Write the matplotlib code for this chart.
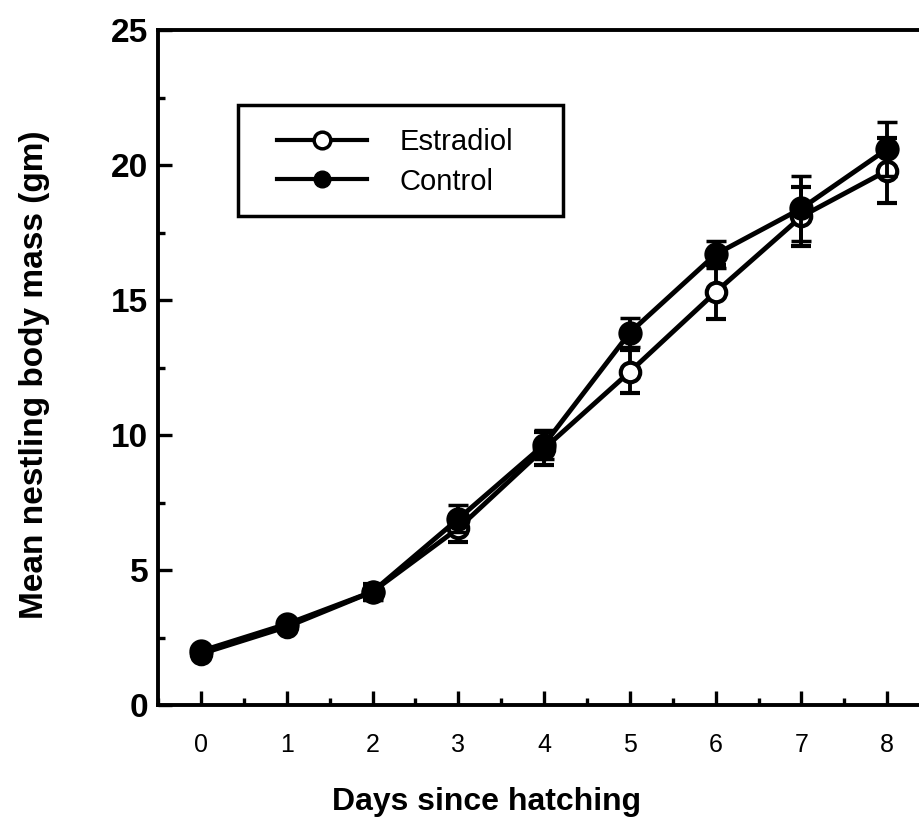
import matplotlib.pyplot as plt
from matplotlib.lines import Line2D
from matplotlib.patches import Rectangle
from matplotlib.ticker import MultipleLocator

plt.rcParams['font.family'] = ['Liberation Sans', 'DejaVu Sans']

# data
days = [0, 1, 2, 3, 4, 5, 6, 7, 8]
estradiol = [1.9, 2.9, 4.2, 6.55, 9.5, 12.35, 15.3, 18.1, 19.8]
estradiol_err = [0.1, 0.15, 0.3, 0.5, 0.6, 0.8, 1.0, 1.1, 1.2]
control = [2.0, 3.0, 4.2, 6.9, 9.65, 13.8, 16.7, 18.4, 20.6]
control_err = [0.1, 0.15, 0.3, 0.5, 0.55, 0.55, 0.5, 1.2, 1.0]

fig = plt.figure(figsize=(9.19, 8.17), dpi=100)
ax = fig.add_axes([0.172, 0.137, 0.828, 0.826])

ax.errorbar(days, estradiol, yerr=estradiol_err, color='black', lw=3.5,
            marker='o', ms=14, mfc='white', mec='black', mew=3,
            elinewidth=2.8, capsize=7, capthick=3.5, zorder=3)
ax.errorbar(days, control, yerr=control_err, color='black', lw=3.5,
            marker='o', ms=15, mfc='black', mec='black', mew=2.5,
            elinewidth=2.8, capsize=7, capthick=3.5, zorder=4)

ax.set_xlim(-0.5, 8.37)
ax.set_ylim(0, 25)
ax.xaxis.set_major_locator(MultipleLocator(1))
ax.xaxis.set_minor_locator(MultipleLocator(0.5))
ax.yaxis.set_major_locator(MultipleLocator(5))
ax.yaxis.set_minor_locator(MultipleLocator(2.5))
ax.tick_params(which='both', direction='in', width=2.4, top=False, right=False)
ax.tick_params(which='major', length=10)
ax.tick_params(which='minor', length=5)
ax.tick_params(axis='x', labelsize=18, pad=20)
ax.tick_params(axis='y', labelsize=24, pad=7)
for lab in ax.get_yticklabels():
    lab.set_fontweight('bold')

ax.spines['right'].set_visible(False)
for s in ['left', 'bottom', 'top']:
    ax.spines[s].set_linewidth(2.8)

ax.set_xlabel('Days since hatching', fontsize=23, fontweight='bold', labelpad=22, x=0.432)
ax.set_ylabel('Mean nestling body mass (gm)', fontsize=24, fontweight='bold', labelpad=44, y=0.49)

# legend box
fig.patches.append(Rectangle((238 / 919, 1 - 216 / 817), 325 / 919, 111 / 817,
                             transform=fig.transFigure, fill=False,
                             edgecolor='black', linewidth=2.5))
handles = [
    Line2D([], [], color='black', lw=3, marker='o', ms=12, mfc='white', mec='black', mew=2.5),
    Line2D([], [], color='black', lw=3, marker='o', ms=12, mfc='black', mec='black'),
]
leg = fig.legend(handles, ['Estradiol', 'Control'], loc='upper left',
                 bbox_to_anchor=(277 / 919, 1 - 128 / 817),
                 fontsize=21, frameon=False, handlelength=3.1,
                 borderpad=0, labelspacing=0.4, handletextpad=1.1,
                 borderaxespad=0)

fig.savefig('out.png', dpi=100)
